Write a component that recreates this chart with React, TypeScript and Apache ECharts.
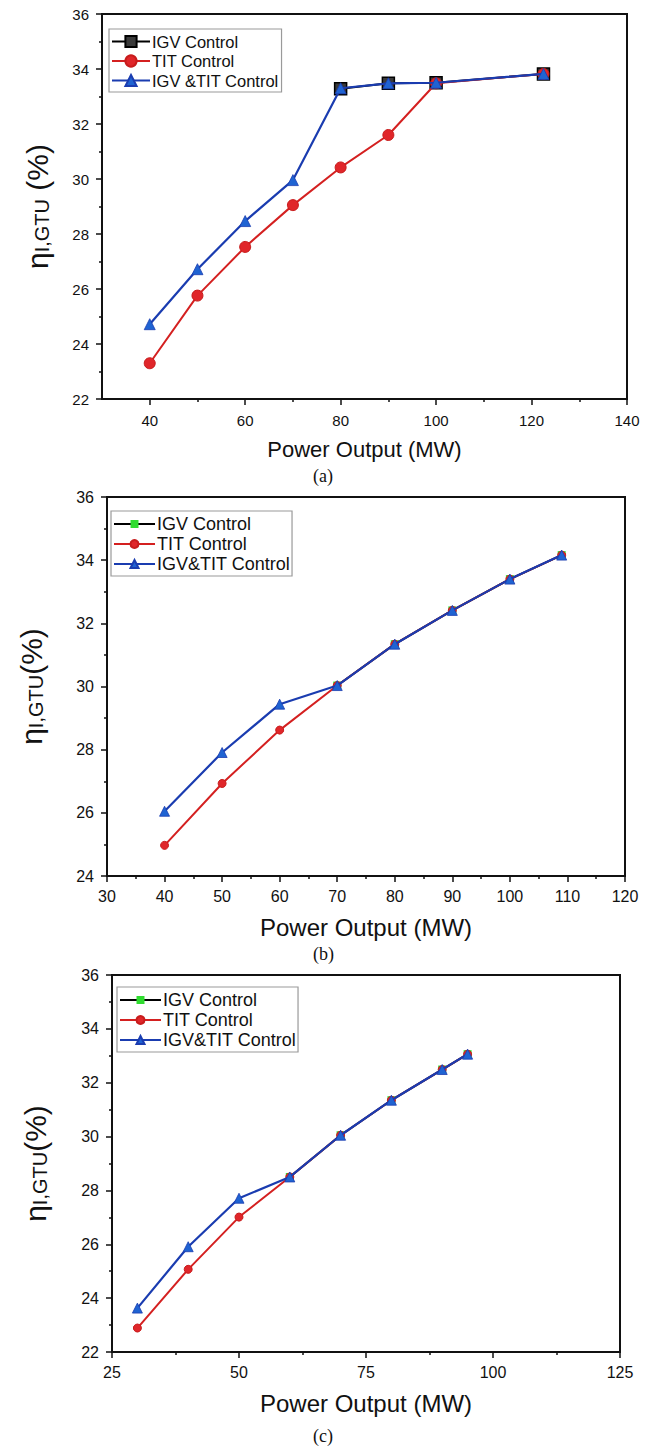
import React, { useEffect, useRef } from "react";
import * as echarts from "echarts";

// ---------- Data ----------
// Panel (a)
const A_X = [40, 50, 60, 70, 80, 90, 100, 122.5];
const A_TIT = [23.3, 25.76, 27.53, 29.05, 30.42, 31.6, 33.48, 33.82];
const A_BOTH = [24.72, 26.72, 28.47, 29.96, 33.3, 33.48, 33.5, 33.82];
const A_IGV_X = [80, 90, 100, 122.5];
const A_IGV = [33.28, 33.48, 33.5, 33.82];
const A_XLABELS = [40, 60, 80, 100, 120, 140];
const A_XMINOR = [50, 70, 90, 110, 130];

// Panel (b)
const B_X = [40, 50, 60, 70, 80, 90, 100, 109];
const B_TIT = [24.97, 26.93, 28.62, 30.03, 31.34, 32.41, 33.4, 34.16];
const B_BOTH = [26.05, 27.91, 29.44, 30.03, 31.34, 32.41, 33.4, 34.16];
const B_IGV_X = [70, 80, 90, 100, 109];
const B_IGV = [30.03, 31.34, 32.41, 33.4, 34.16];

// Panel (c)
const C_X = [30, 40, 50, 60, 70, 80, 90, 95];
const C_TIT = [22.89, 25.07, 27.01, 28.5, 30.05, 31.35, 32.49, 33.06];
const C_BOTH = [23.63, 25.91, 27.71, 28.5, 30.05, 31.35, 32.49, 33.06];
const C_IGV_X = [60, 70, 80, 90, 95];
const C_IGV = [28.5, 30.05, 31.35, 32.49, 33.06];

const NAMES_A = ["IGV Control", "TIT Control", "IGV &TIT Control"];
const NAMES_BC = ["IGV Control", "TIT Control", "IGV&TIT Control"];

const FONT = "'Liberation Sans', Arial, sans-serif";
const TXT = "#111";
const AXIS = "#111";
const RED = "#e0262a";
const RED_LINE = "#d42020";
const BLUE_LINE = "#1a3cb0";
const BLUE = "#1f63d2";
const GREEN = "#2fdc2f";

const zip = (xs: number[], ys: number[]) => xs.map((x, i) => [x, ys[i]]);

const yName = (sep: string) => `{eta|η}{sub|I,GTU}{p|${sep}(%)}`;
const yRich = {
  eta: { fontSize: 30, fontFamily: FONT, color: TXT, verticalAlign: "bottom", lineHeight: 36 },
  sub: { fontSize: 20, fontFamily: FONT, color: TXT, verticalAlign: "bottom", lineHeight: 32 },
  p: { fontSize: 30, fontFamily: FONT, color: TXT, verticalAlign: "bottom", lineHeight: 36 },
};

function xAxisCfg(grid: number, o: any) {
  return {
    type: "value",
    gridIndex: grid,
    position: "bottom",
    min: o.min,
    max: o.max,
    interval: o.interval,
    name: "Power Output (MW)",
    nameLocation: "middle",
    nameGap: o.nameGap,
    nameTextStyle: { fontSize: o.nameSize, fontFamily: FONT, color: TXT },
    axisLine: { show: true, onZero: false, lineStyle: { color: AXIS, width: 2 } },
    axisTick: { show: true, length: 6, lineStyle: { color: AXIS, width: 1.5 }, ...(o.tickCustom ? { customValues: o.tickCustom } : {}) },
    minorTick: o.minor ? { show: true, splitNumber: 2, length: 3, lineStyle: { color: AXIS, width: 1.5 } } : { show: false },
    axisLabel: {
      fontSize: o.labelSize,
      fontFamily: FONT,
      color: TXT,
      margin: o.labelMargin,
      ...(o.labelCustom ? { customValues: o.labelCustom } : {}),
    },
    splitLine: { show: false },
  };
}

function yAxisCfg(grid: number, o: any) {
  return {
    type: "value",
    gridIndex: grid,
    min: o.min,
    max: 36,
    interval: 2,
    name: yName(o.sep),
    nameLocation: "middle",
    nameRotate: 90,
    nameGap: o.nameGap,
    nameTextStyle: { rich: yRich },
    axisLine: { show: true, onZero: false, lineStyle: { color: AXIS, width: 2 } },
    axisTick: { show: true, length: 6, lineStyle: { color: AXIS, width: 1.5 } },
    minorTick: { show: true, splitNumber: 2, length: 3, lineStyle: { color: AXIS, width: 1.5 } },
    axisLabel: { fontSize: o.labelSize, fontFamily: FONT, color: TXT, margin: o.labelMargin },
    splitLine: { show: false },
  };
}

function panelSeries(xi: number, yi: number, names: string[], big: boolean, d: any) {
  const igvStyle = big
    ? { color: "#3a3a3a", borderColor: "#000", borderWidth: 1.5 }
    : { color: GREEN, borderColor: GREEN, borderWidth: 0 };
  return [
    {
      name: names[0],
      type: "line",
      xAxisIndex: xi,
      yAxisIndex: yi,
      data: zip(d.igvX, d.igv),
      symbol: "rect",
      symbolSize: big ? 12 : 8,
      lineStyle: { color: "#000", width: 2 },
      itemStyle: igvStyle,
      z: 2,
    },
    {
      name: names[1],
      type: "line",
      xAxisIndex: xi,
      yAxisIndex: yi,
      data: zip(d.x, d.tit),
      symbol: "circle",
      symbolSize: big ? 11 : 8,
      lineStyle: { color: RED_LINE, width: 2 },
      itemStyle: { color: RED, borderColor: "#c81c1c", borderWidth: 1 },
      z: 3,
    },
    {
      name: names[2],
      type: "line",
      xAxisIndex: xi,
      yAxisIndex: yi,
      data: zip(d.x, d.both),
      symbol: "triangle",
      symbolSize: big ? 11 : 10,
      lineStyle: { color: BLUE_LINE, width: 2.2 },
      itemStyle: { color: BLUE, borderColor: BLUE_LINE, borderWidth: 0.8 },
      z: 4,
    },
  ];
}

function legendCfg(o: any, names: string[], big: boolean) {
  return {
    show: true,
    orient: "vertical",
    left: o.left,
    top: o.top,
    padding: o.padding,
    itemGap: o.itemGap,
    itemWidth: o.itemWidth,
    itemHeight: big ? 14 : 10,
    backgroundColor: "#fff",
    borderColor: "#9a9a9a",
    borderWidth: 1.2,
    selectedMode: false,
    textStyle: { fontSize: o.fontSize, fontFamily: FONT, color: TXT, padding: [0, 0, 0, -3] },
    data: big
      ? names
      : [
          { name: names[0], itemStyle: { color: GREEN, borderColor: GREEN, borderWidth: 0 }, lineStyle: { color: "#000" } },
          { name: names[1] },
          { name: names[2] },
        ],
  };
}

export default function App() {
  const ref = useRef<HTMLDivElement>(null);
  useEffect(() => {
    if (!ref.current) return;
    const chart = echarts.init(ref.current, undefined, { renderer: "svg" });
    const option: any = {
      animation: false,
      backgroundColor: "#fff",
      grid: [
        { left: 102, top: 14, width: 525, height: 385, show: true, borderColor: AXIS, borderWidth: 2, backgroundColor: "transparent" },
        { left: 107, top: 497, width: 518, height: 379, show: true, borderColor: AXIS, borderWidth: 2, backgroundColor: "transparent" },
        { left: 112, top: 975, width: 508, height: 377, show: true, borderColor: AXIS, borderWidth: 2, backgroundColor: "transparent" },
      ],
      xAxis: [
        xAxisCfg(0, { min: 30, max: 140, interval: 10, nameGap: 39, nameSize: 22, labelSize: 15, labelMargin: 14, labelCustom: A_XLABELS, tickCustom: A_XLABELS, minor: false }),
        {
          type: "value",
          gridIndex: 0,
          position: "bottom",
          min: 30,
          max: 140,
          axisLine: { show: false },
          axisLabel: { show: false },
          axisTick: { show: true, length: 3, lineStyle: { color: AXIS, width: 1.5 }, customValues: A_XMINOR },
          splitLine: { show: false },
        },
        xAxisCfg(1, { min: 30, max: 120, interval: 10, nameGap: 39, nameSize: 24, labelSize: 16, labelMargin: 12, minor: true }),
        xAxisCfg(2, { min: 25, max: 125, interval: 25, nameGap: 39, nameSize: 24, labelSize: 16, labelMargin: 12, minor: true }),
      ],
      yAxis: [
        yAxisCfg(0, { min: 22, sep: " ", nameGap: 50, labelSize: 15, labelMargin: 13 }),
        yAxisCfg(1, { min: 24, sep: "", nameGap: 61, labelSize: 16, labelMargin: 13 }),
        yAxisCfg(2, { min: 22, sep: "", nameGap: 62, labelSize: 16, labelMargin: 13 }),
      ],
      legend: [
        legendCfg({ left: 109, top: 29, padding: [4, 3, 3, 2], itemGap: 2.5, itemWidth: 38, fontSize: 16.5 }, NAMES_A, true),
        legendCfg({ left: 111, top: 511, padding: [4, 2, 3, 2], itemGap: 2, itemWidth: 41, fontSize: 18 }, NAMES_BC, false),
        legendCfg({ left: 117, top: 987, padding: [4, 2, 3, 2], itemGap: 2, itemWidth: 41, fontSize: 18 }, NAMES_BC, false),
      ],
      graphic: [
        { type: "text", left: 313, top: 467, style: { text: "(a)", fontSize: 18, fontFamily: "'Liberation Serif', 'Times New Roman', serif", fill: TXT } },
        { type: "text", left: 313, top: 945, style: { text: "(b)", fontSize: 18, fontFamily: "'Liberation Serif', 'Times New Roman', serif", fill: TXT } },
        { type: "text", left: 313, top: 1427, style: { text: "(c)", fontSize: 18, fontFamily: "'Liberation Serif', 'Times New Roman', serif", fill: TXT } },
      ],
      series: [
        ...panelSeries(0, 0, NAMES_A, true, { x: A_X, tit: A_TIT, both: A_BOTH, igvX: A_IGV_X, igv: A_IGV }),
        ...panelSeries(2, 1, NAMES_BC, false, { x: B_X, tit: B_TIT, both: B_BOTH, igvX: B_IGV_X, igv: B_IGV }),
        ...panelSeries(3, 2, NAMES_BC, false, { x: C_X, tit: C_TIT, both: C_BOTH, igvX: C_IGV_X, igv: C_IGV }),
      ],
    };
    chart.setOption(option);
    return () => chart.dispose();
  }, []);
  return (
    <div
      ref={ref}
      style={{ position: "absolute", left: 0, top: 0, width: 650, height: 1447, background: "#fff" }}
    />
  );
}
